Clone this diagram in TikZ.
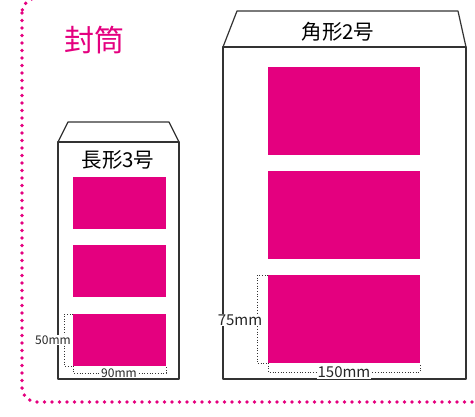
\documentclass[tikz,border=0pt]{standalone}
\usepackage{fontspec}
\setmainfont{Noto Sans CJK JP}
\usepackage{tikz}

\definecolor{shocking}{HTML}{E4007F}
\definecolor{outline}{HTML}{333333}

\tikzset{
  envelope/.style={draw=outline,line width=1.2pt,line join=round},
  card/.style={fill=shocking,draw=none},
  dimline/.style={draw=outline,line width=0.7pt,dotted},
  dimlabel/.style={fill=white,inner sep=1pt,text=black!85}
}

\begin{document}
\begin{tikzpicture}[x=1pt,y=-1pt]
  \useasboundingbox (0,0) rectangle (475,416);
  % dotted frame
  \begin{scope}
    \clip (0,0) rectangle (475,416);
    \draw[shocking,line width=3.8pt,line cap=round,dash pattern=on 0pt off 7.5pt,rounded corners=15pt]
      (22,-2) -- (22,402) -- (495,402) -- (495,-2) -- cycle;
  \end{scope}
  \node[text=shocking,font=\fontsize{30}{32}\selectfont] (title) at (94,40) {封筒};

  % small envelope
  \draw[envelope] (58,142) rectangle (179,379);
  \draw[envelope] (58,142) -- (68,122) -- (169,122) -- (179,142);
  \node[font=\fontsize{20.5}{22}\selectfont] (smallname) at (118,160) {長形3号};
  \foreach \y in {177,245,314}
    \fill[card] (73,\y) rectangle (166,\y+52);
  \draw[dimline] (73,314) -- (64,314) -- (64,366) -- (73,366);
  \draw[dimline] (73,366) -- (73,373) -- (166,373) -- (166,366);
  \node[dimlabel,font=\fontsize{12}{14}\selectfont] (smallh) at (53,340) {50mm};
  \node[dimlabel,font=\fontsize{12}{14}\selectfont] (smallw) at (119,373) {90mm};

  % large envelope
  \draw[envelope] (223,47) rectangle (466,379);
  \draw[envelope] (223,47) -- (237,11) -- (458,11) -- (466,47);
  \node[font=\fontsize{20.5}{22}\selectfont] (largename) at (338,32) {角形2号};
  \foreach \y in {67,171,275}
    \fill[card] (268,\y) rectangle (420,\y+88);
  \draw[dimline] (268,275) -- (257,275) -- (257,363) -- (268,363);
  \draw[dimline] (268,363) -- (268,372) -- (420,372) -- (420,363);
  \node[dimlabel,font=\fontsize{15}{17}\selectfont] (largeh) at (240,320) {75mm};
  \node[dimlabel,font=\fontsize{15}{17}\selectfont] (largew) at (344,372) {150mm};
\end{tikzpicture}
\end{document}
